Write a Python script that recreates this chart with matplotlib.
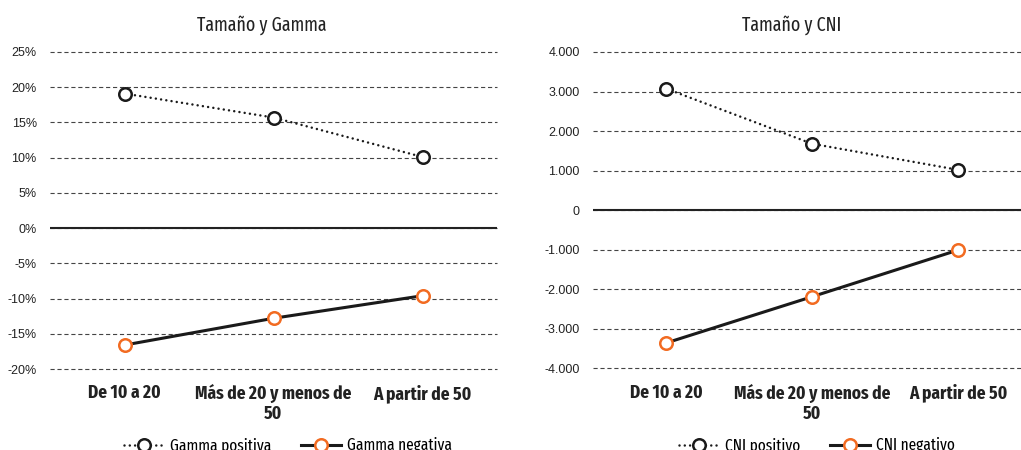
import numpy as np
import matplotlib
matplotlib.use("Agg")
import matplotlib.pyplot as plt
from matplotlib.ticker import FuncFormatter, MultipleLocator

plt.rcParams["lines.scale_dashes"] = False

# categories and series
categorias = ["De 10 a 20", "Más de 20 y menos de\n50", "A partir de 50"]

gamma_positiva = [0.191, 0.157, 0.101]
gamma_negativa = [-0.166, -0.128, -0.096]

cni_positivo = [3075, 1680, 1020]
cni_negativo = [-3360, -2190, -1010]

NARANJA = "#F26B21"
NEGRO = "#1a1a1a"
COND = ["Fira Sans Extra Condensed", "Fira Sans Condensed", "DejaVu Sans"]
REG = ["Liberation Sans", "DejaVu Sans"]

fig = plt.figure(figsize=(10.21, 4.5), dpi=100)
ax1 = fig.add_axes([50 / 1021, 81 / 450, 447 / 1021, 317 / 450])
ax2 = fig.add_axes([593 / 1021, 81.7 / 450, 438 / 1021, 316.3 / 450])


def fmt_pct(v, pos):
    return f"{round(v * 100):d}%"


def fmt_miles(v, pos):
    return f"{int(round(v)):,d}".replace(",", ".")


def dibujar(ax, pos, neg, ylim, paso, fmt, titulo, lab_pos, lab_neg, tx, lx):
    x = np.arange(len(categorias))
    ax.plot(x, pos, color=NEGRO, lw=1.8, linestyle=(0, (0.01, 3.8)),
            dash_capstyle="round", marker="o", ms=9, mew=1.8,
            mfc="white", mec=NEGRO, label=lab_pos, zorder=3)
    ax.plot(x, neg, color=NEGRO, lw=2.2, marker="o", ms=9, mew=1.8,
            mfc="white", mec=NARANJA, label=lab_neg, zorder=3)

    ax.set_xlim(-0.5, len(categorias) - 0.5)
    ax.set_ylim(*ylim)
    ax.yaxis.set_major_locator(MultipleLocator(paso))
    ax.yaxis.set_major_formatter(FuncFormatter(fmt))
    ax.grid(axis="y", color="#444444", lw=0.8, linestyle=(0, (3.0, 2.0)),
            clip_on=False)
    ax.axhline(0, color="#222222", lw=1.5, zorder=2)
    for s in ax.spines.values():
        s.set_visible(False)
    ax.tick_params(axis="both", length=0)
    ax.tick_params(axis="y", pad=9.5, labelsize=9, colors="#222222")
    ax.set_xticks(x)
    ax.set_xticklabels(categorias, family=COND, weight="bold", fontsize=13.5,
                       color="#222222", linespacing=1.15)
    ax.tick_params(axis="x", pad=11)
    for lb in ax.get_yticklabels():
        lb.set_family(REG)

    fig.text(tx, 1 - 25 / 450, titulo, family=COND, fontsize=14,
             color="#222222", ha="center", va="center")
    ax.legend(loc="center", bbox_to_anchor=(lx, 1 - 446 / 450),
              bbox_transform=fig.transFigure, ncol=2, frameon=False,
              prop={"family": COND, "size": 12}, handlelength=2.4,
              handletextpad=0.35, columnspacing=1.8)


dibujar(ax1, gamma_positiva, gamma_negativa, (-0.20, 0.25), 0.05, fmt_pct,
        "Tamaño y Gamma", "Gamma positiva", "Gamma negativa",
        262 / 1021, 288 / 1021)
dibujar(ax2, cni_positivo, cni_negativo, (-4000, 4000), 1000, fmt_miles,
        "Tamaño y CNI", "CNI positivo", "CNI negativo",
        792 / 1021, 817 / 1021)

fig.savefig("out.png", dpi=100)
